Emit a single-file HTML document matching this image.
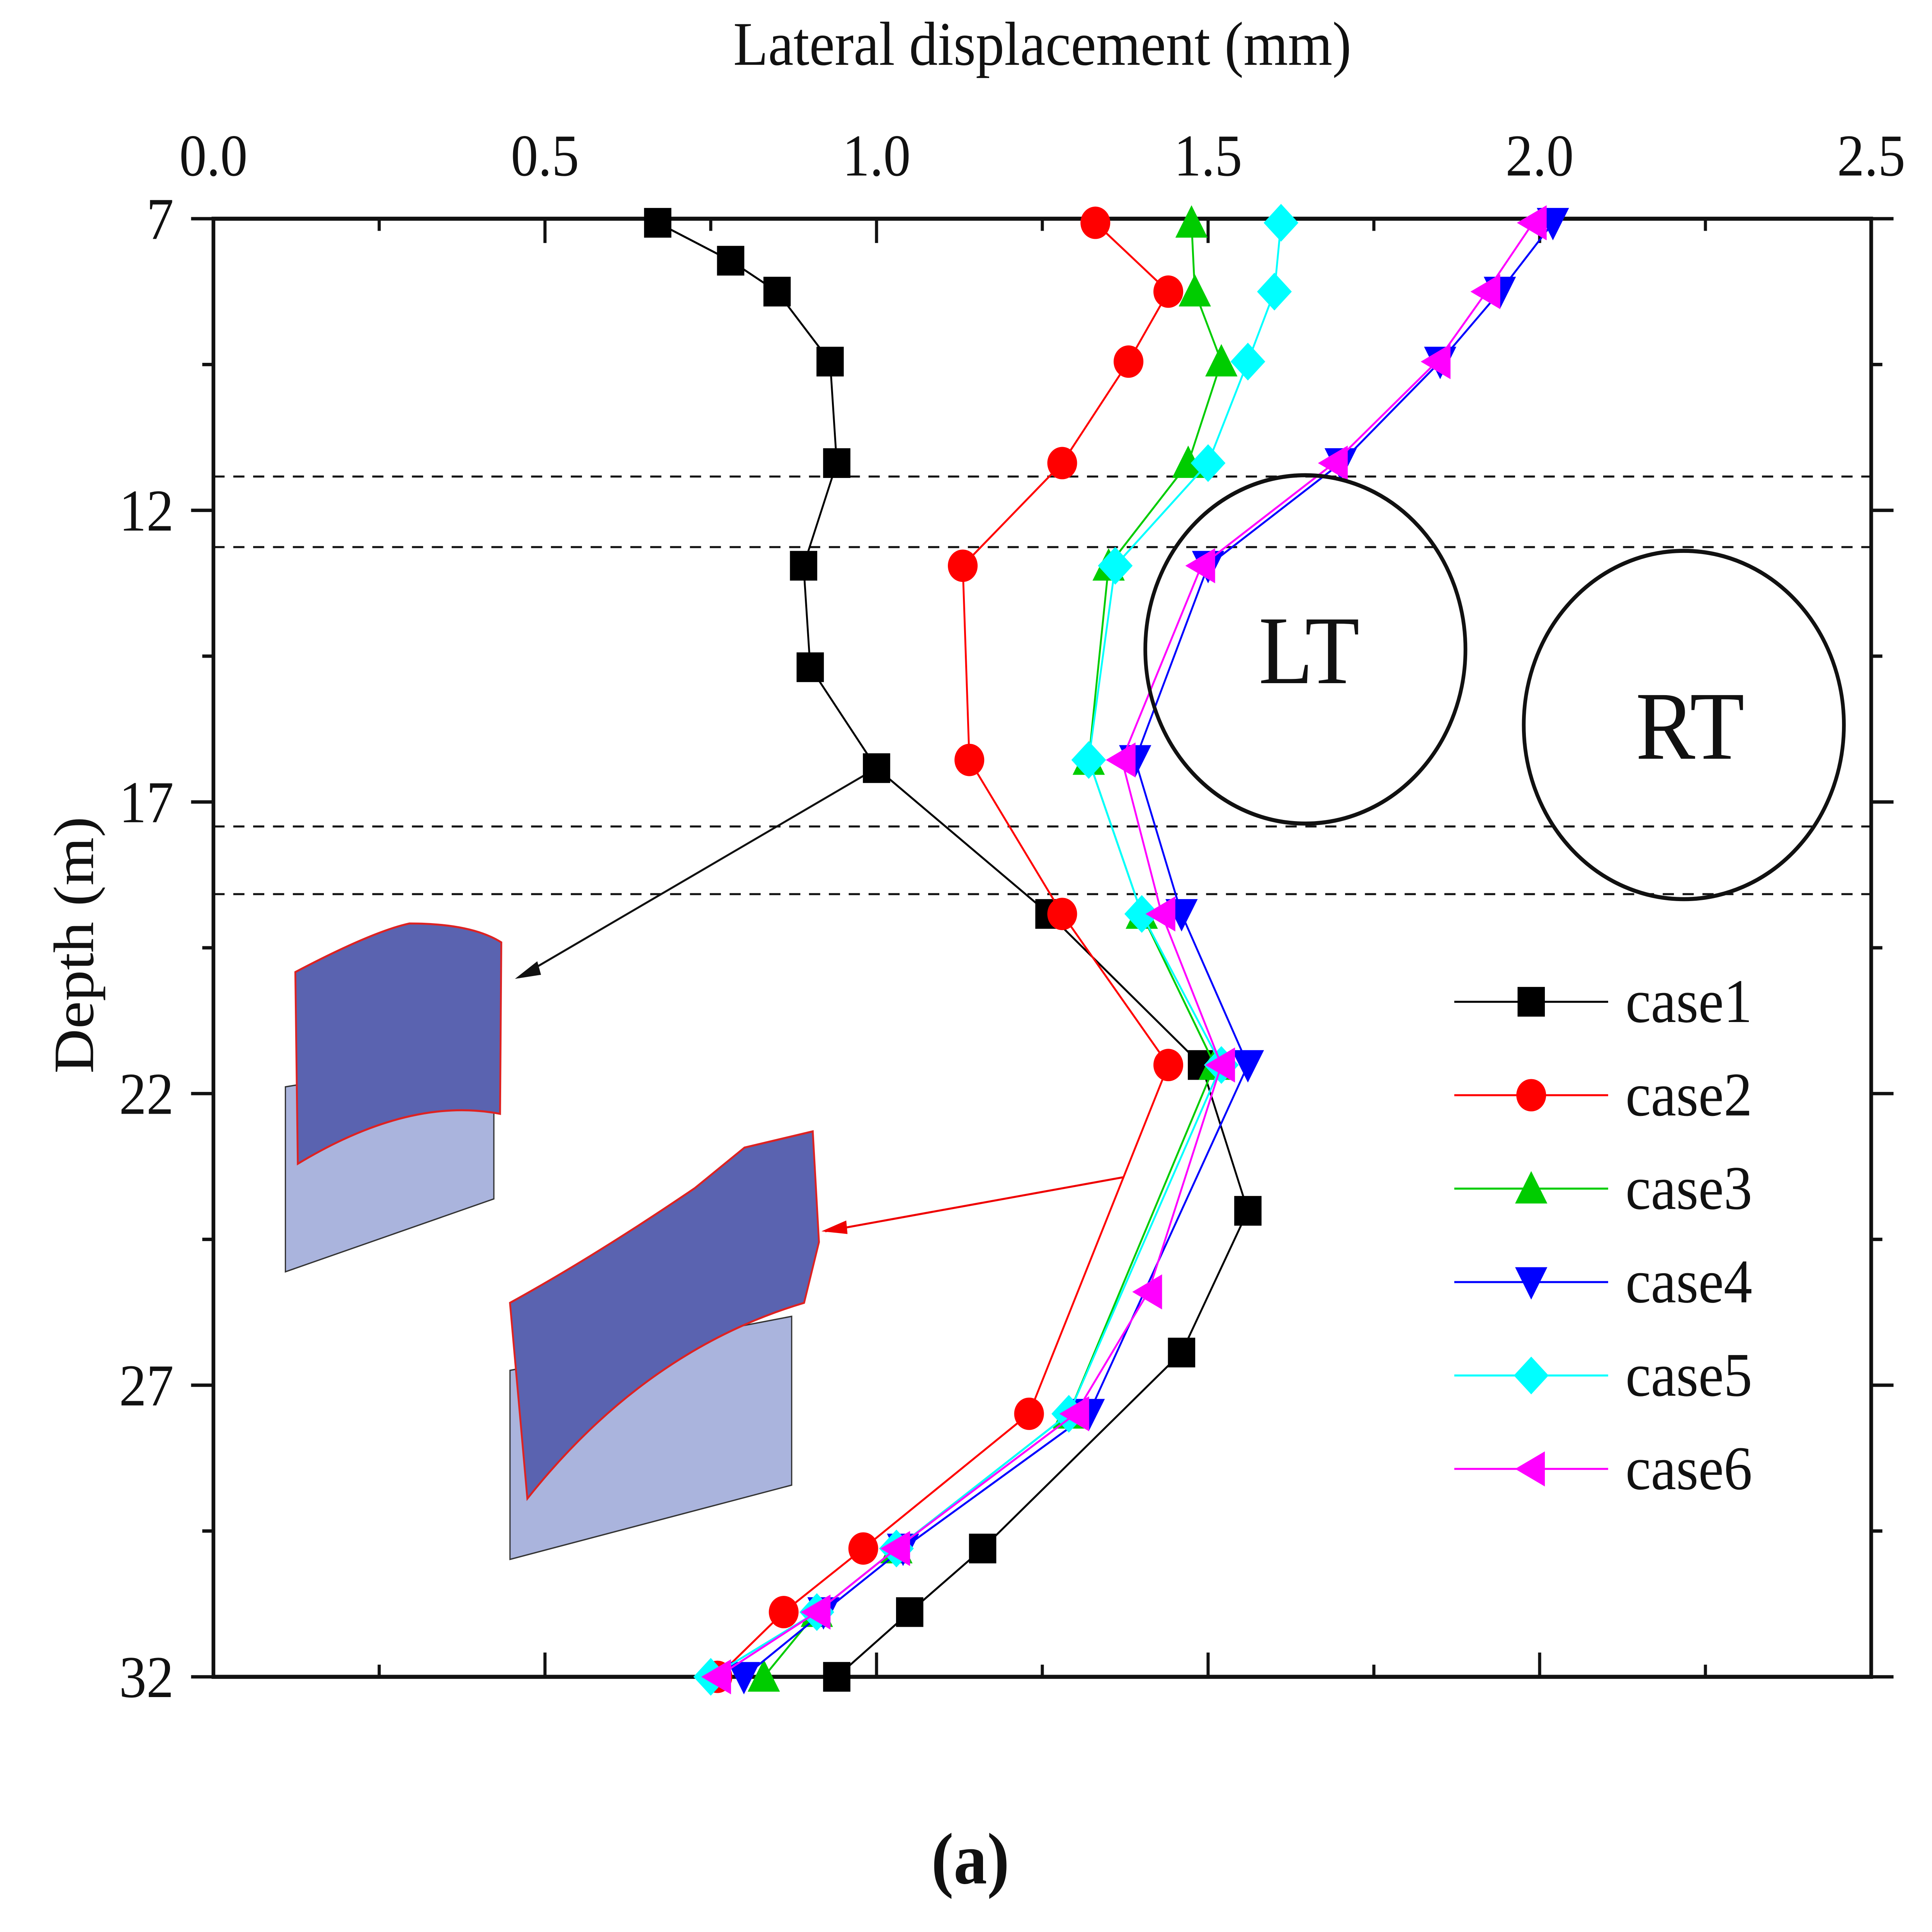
<!DOCTYPE html>
<html><head><meta charset="utf-8"><style>
html,body{margin:0;padding:0;background:#fff;overflow:hidden;width:100vw;height:100vh}
svg{display:block;width:100vw;height:100vh}
text{font-family:"Liberation Serif",serif;fill:#111}
</style></head><body>
<svg id="chart" viewBox="0 0 1557 1431" preserveAspectRatio="none" xmlns="http://www.w3.org/2000/svg">
<rect x="0" y="0" width="1557" height="1431" fill="#fff"/>
<g id="insets">
  <polygon points="230,805 398,780 398,888 230,942" fill="#aab4dd" stroke="#333" stroke-width="1"/>
  <path d="M238,720 Q300,690 330,684 Q380,684 404,698 L403,825 Q330,812 240,862 Z" fill="#5a63b0" stroke="#d22" stroke-width="1.5"/>
  <polygon points="411,1015 638,975 638,1100 411,1155" fill="#aab4dd" stroke="#333" stroke-width="1"/>
  <path d="M411,965 Q480,930 560,880 L600,850 L655,838 L660,920 L648,965 Q520,1000 425,1110 Z" fill="#5a63b0" stroke="#d22" stroke-width="1.5"/>
</g>
<g id="axes"></g>
<g id="series"></g>
<g id="legend"></g>
<text x="840" y="48" text-anchor="middle" font-size="46">Lateral displacement (mm)</text>
<text transform="translate(75,700) rotate(-90)" text-anchor="middle" font-size="46">Depth (m)</text>
<text x="782" y="1395" text-anchor="middle" font-size="54" font-weight="bold">(a)</text>
<circle cx="1052" cy="481" r="129" fill="none" stroke="#111" stroke-width="3"/>
<text x="1055" y="506" text-anchor="middle" font-size="72">LT</text>
<circle cx="1357" cy="537" r="129" fill="none" stroke="#111" stroke-width="3"/>
<text x="1362" y="562" text-anchor="middle" font-size="72">RT</text>
</svg>
<script>
const xTicks = [0.0, 0.5, 1.0, 1.5, 2.0, 2.5];
const yTicks = [7, 12, 17, 22, 27, 32];
const dashedDepths = [11.42, 12.63, 17.42, 18.58];
const case1X = [0.67,0.78,0.85,0.93,0.94,0.89,0.90,1.00,1.26,1.49,1.56,1.46,1.16,1.05,0.94];
const case1Y = [7.07,7.72,8.25,9.45,11.19,12.95,14.69,16.42,18.92,21.51,24.01,26.44,29.8,30.89,32];
const case2X = [1.33,1.44,1.38,1.28,1.13,1.14,1.28,1.44,1.23,0.98,0.86,0.76];
const case2Y = [7.07,8.25,9.45,11.19,12.95,16.28,18.92,21.51,27.49,29.8,30.89,32];
const case3X = [1.475,1.48,1.52,1.47,1.35,1.32,1.40,1.51,1.29,1.03,0.91,0.83];
const case3Y = [7.07,8.25,9.45,11.19,12.95,16.28,18.92,21.51,27.49,29.8,30.89,32];
const case4X = [2.02,1.94,1.85,1.70,1.50,1.39,1.46,1.56,1.32,1.04,0.92,0.80];
const case4Y = [7.07,8.25,9.45,11.19,12.95,16.28,18.92,21.51,27.49,29.8,30.89,32];
const case5X = [1.61,1.60,1.56,1.50,1.36,1.32,1.40,1.52,1.29,1.03,0.91,0.75];
const case5Y = [7.07,8.25,9.45,11.19,12.95,16.28,18.92,21.51,27.49,29.8,30.89,32];
const case6X = [1.99,1.92,1.845,1.69,1.49,1.37,1.43,1.52,1.41,1.30,1.03,0.91,0.76];
const case6Y = [7.07,8.25,9.45,11.19,12.95,16.28,18.92,21.51,25.4,27.49,29.8,30.89,32];
const seriesNames = ['case1','case2','case3','case4','case5','case6'];

const NS='http://www.w3.org/2000/svg';
const X0=172,X1=1508,Y0=162,Y1=1242;
function sx(v){return X0+(v-0)/(2.5-0)*(X1-X0);}
function sy(d){return Y0+(d-7)/(32-7)*(Y1-Y0);}
function mk(tag,attrs,parent){const e=document.createElementNS(NS,tag);for(const k in attrs)e.setAttribute(k,attrs[k]);parent.appendChild(e);return e;}
const axes=document.getElementById('axes');
const frame=mk('rect',{x:X0,y:Y0,width:X1-X0,height:Y1-Y0,fill:'none',stroke:'#111','stroke-width':3},axes);


dashedDepths.forEach(d=>{
  const l=mk('line',{x1:X0,x2:X1,y1:sy(d),y2:sy(d),stroke:'#111','stroke-width':1.5,'stroke-dasharray':'9,7'},axes);
  
  
});
for(let i=0;i<=10;i++){const v=i*0.25;const L=i%2?9:18;
  const t=mk('path',{d:`M${sx(v)},${Y0}v${L}M${sx(v)},${Y1}v${-L}`,stroke:'#111','stroke-width':2.5},axes);
  
  }
for(let i=0;i<=10;i++){const d=7+i*2.5;const L=i%2?9:18;
  const t=mk('path',{d:`M${X0},${sy(d)}h${-L}M${X1},${sy(d)}h${L}`,stroke:'#111','stroke-width':2.5},axes);
  
  }
xTicks.forEach(v=>{const t=mk('text',{x:sx(v),y:130,'text-anchor':'middle','font-size':44},axes);t.textContent=v.toFixed(1);
  
  });
yTicks.forEach(d=>{const t=mk('text',{x:140,y:sy(d)+15,'text-anchor':'end','font-size':44},axes);t.textContent=d;
  
  });
const a1=mk('path',{d:`M${sx(1.0)},${sy(16.42)}L418,724`,stroke:'#111','stroke-width':1.5,fill:'none'},axes);


mk('polygon',{points:'415,725 433,712 436,722',fill:'#111'},axes);
const a2=mk('path',{d:'M905,872L665,912',stroke:'#e00','stroke-width':1.5,fill:'none'},axes);


mk('polygon',{points:'662,912 682,904 683,914',fill:'#e00'},axes);

const colors=['#000','#f00','#0c0','#00f','#0ff','#f0f'];
const shapes=['square','circle','up','down','diamond','left'];
function marker(g,shape,x,y,c,r){
  let e;
  if(shape==='square')e=mk('rect',{x:x-r,y:y-r,width:2*r,height:2*r,fill:c},g);
  else if(shape==='circle')e=mk('circle',{cx:x,cy:y,r:r+1,fill:c},g);
  else{let p;
    if(shape==='up')p=[[x,y-r-2],[x+r+2,y+r],[x-r-2,y+r]];
    if(shape==='down')p=[[x,y+r+2],[x+r+2,y-r],[x-r-2,y-r]];
    if(shape==='left')p=[[x-r-2,y],[x+r,y-r-2],[x+r,y+r+2]];
    if(shape==='diamond')p=[[x,y-r-3],[x+r+3,y],[x,y+r+3],[x-r-3,y]];
    e=mk('polygon',{points:p.map(q=>q.join(',')).join(' '),fill:c},g);}
  return e;
}
const allX=[case1X,case2X,case3X,case4X,case5X,case6X];
const allY=[case1Y,case2Y,case3Y,case4Y,case5Y,case6Y];
const sg=document.getElementById('series');
allX.forEach((xs,i)=>{
  const g=mk('g',{},sg);
  
  
  const pts=xs.map((v,j)=>sx(v)+','+sy(allY[i][j])).join(' ');
  const pl=mk('polyline',{points:pts,fill:'none',stroke:colors[i],'stroke-width':1.5},g);
  
  
  xs.forEach((v,j)=>{
    const m=marker(g,shapes[i],sx(v),sy(allY[i][j]),colors[i],11);
    
    
  });
});
const lg=document.getElementById('legend');


seriesNames.forEach((n,i)=>{
  const y=742+i*69.2;
  const g=mk('g',{},lg);
  
  
  mk('line',{x1:1172,x2:1296,y1:y,y2:y,stroke:colors[i],'stroke-width':1.5},g);
  marker(g,shapes[i],1234,y,colors[i],11);
  const t=mk('text',{x:1310,y:y+15,'font-size':46},g);t.textContent=n;
});
</script>
</body></html>
